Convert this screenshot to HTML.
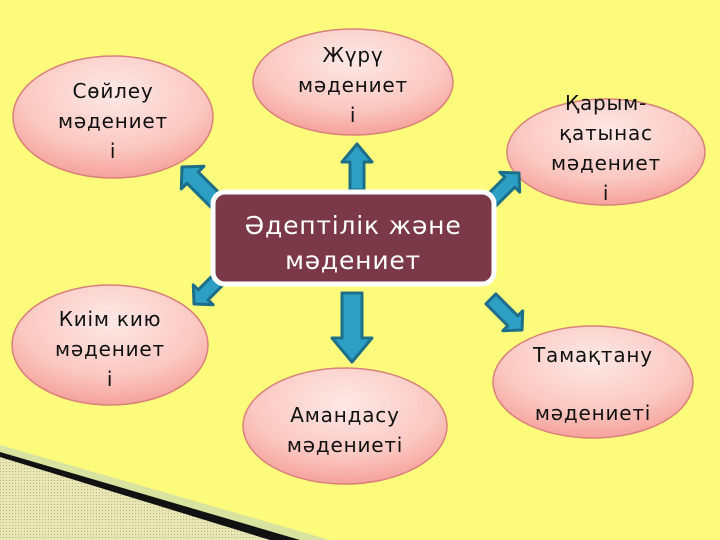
<!DOCTYPE html>
<html><head><meta charset="utf-8"><style>
html,body{margin:0;padding:0;width:720px;height:540px;overflow:hidden;background:#fdfb7c}
svg{display:block}
text{font-family:"DejaVu Sans","Liberation Sans",sans-serif;}
</style></head><body>
<svg width="720" height="540" viewBox="0 0 720 540" xmlns="http://www.w3.org/2000/svg">
<defs>
<radialGradient id="eg" cx="50%" cy="30%" r="75%">
<stop offset="0" stop-color="#fde9e6"/>
<stop offset="0.6" stop-color="#fbc8c2"/>
<stop offset="1" stop-color="#f59a94"/>
</radialGradient>
<pattern id="hp" width="3" height="3" patternUnits="userSpaceOnUse">
<rect width="3" height="3" fill="#e8e6b4"/><rect width="1" height="1" fill="#b9b78a"/>
</pattern>
</defs>
<rect width="720" height="540" fill="#fdfb7c"/>
<polygon points="0,445 330,540 0,540" fill="#d8e3a0"/>
<polygon points="0,452 300,540 0,540" fill="#111"/>
<polygon points="0,457 270,540 0,540" fill="url(#hp)"/>

<g stroke="#d9817a" stroke-width="1.5" fill="url(#eg)">
<ellipse cx="113" cy="117" rx="100" ry="61"/>
<ellipse cx="353" cy="82" rx="100" ry="53"/>
<ellipse cx="606" cy="152" rx="99" ry="53"/>
<ellipse cx="110" cy="345" rx="98" ry="60"/>
<ellipse cx="593" cy="382" rx="100" ry="56"/>
<ellipse cx="345" cy="426" rx="102" ry="58"/>
</g>

<g fill="#2e9fc4" stroke="#1d6e89" stroke-width="3" stroke-linejoin="round">
<polygon points="357,144 372,162 364,162 364,190 350,190 350,162 342,162"/>
<polygon points="352,362 372,338 362,338 362,293 342,293 342,338 332,338"/>
<g transform="translate(182,167) rotate(-45)"><polygon points="0,0 16,15 8,15 8,52 -8,52 -8,15 -16,15"/></g>
<g transform="translate(519,173) rotate(45)"><polygon points="0,0 14,13 7,13 7,40 -7,40 -7,13 -14,13"/></g>
<g transform="translate(194,304) rotate(-135)"><polygon points="0,0 14,13 7,13 7,38 -7,38 -7,13 -14,13"/></g>
<g transform="translate(522,330) rotate(135)"><polygon points="0,0 14,13 7,13 7,44 -7,44 -7,13 -14,13"/></g>
</g>

<rect x="213" y="192" width="281" height="92" rx="12" fill="#7b3848" stroke="#fff" stroke-width="5"/>
<g fill="#fff" font-size="25" text-anchor="middle" letter-spacing="0.8">
<text x="353" y="234">Әдептілік және</text>
<text x="353" y="269">мәдениет</text>
</g>

<g fill="#111" font-size="20" text-anchor="middle" letter-spacing="0.8">
<text x="113" y="98">Сөйлеу</text>
<text x="113" y="128">мәдениет</text>
<text x="113" y="158">і</text>
<text x="353" y="62">Жүрү</text>
<text x="353" y="92">мәдениет</text>
<text x="353" y="122">і</text>
<text x="606" y="110">Қарым-</text>
<text x="606" y="140">қатынас</text>
<text x="606" y="170">мәдениет</text>
<text x="606" y="200">і</text>
<text x="110" y="326">Киім кию</text>
<text x="110" y="356">мәдениет</text>
<text x="110" y="386">і</text>
<text x="593" y="362">Тамақтану</text>
<text x="593" y="420">мәдениеті</text>
<text x="345" y="422">Амандасу</text>
<text x="345" y="452">мәдениеті</text>
</g>
</svg>
</body></html>
